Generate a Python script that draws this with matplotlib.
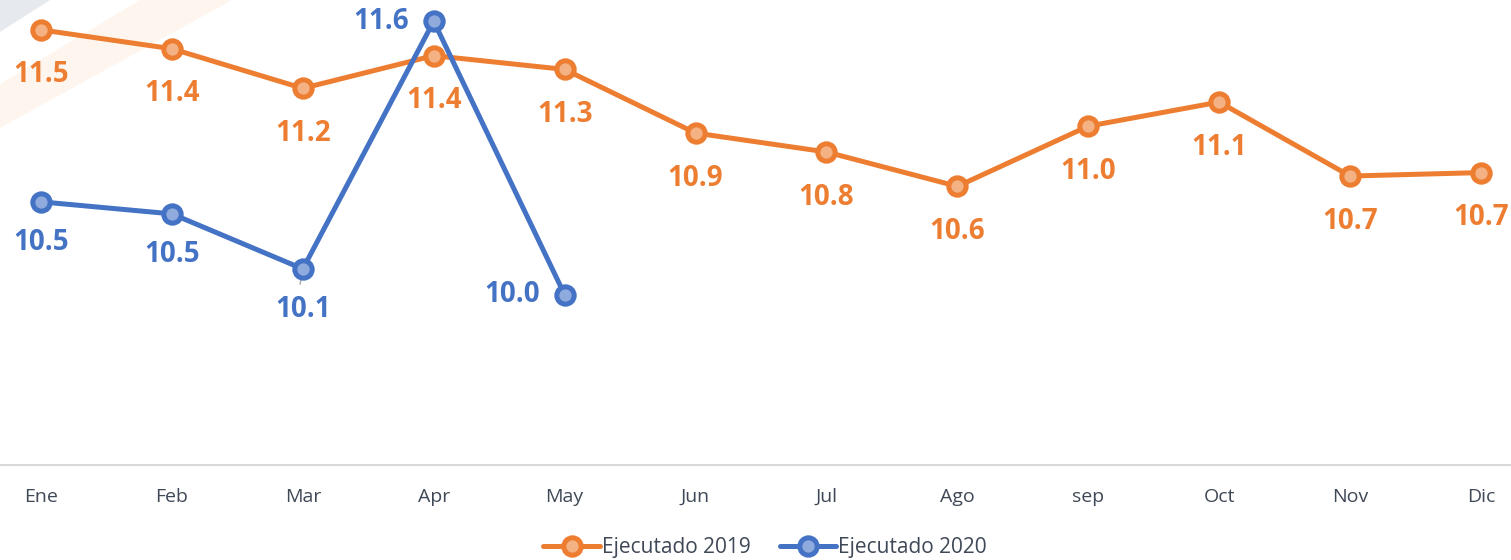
import matplotlib
matplotlib.use("Agg")
import matplotlib.pyplot as plt
from matplotlib.patches import Polygon

# Monthly series
months = ["Ene", "Feb", "Mar", "Apr", "May", "Jun", "Jul", "Ago", "sep", "Oct", "Nov", "Dic"]
ejecutado_2019 = [11.53, 11.42, 11.19, 11.38, 11.30, 10.93, 10.82, 10.62, 10.97, 11.11, 10.68, 10.70]
ejecutado_2020 = [10.53, 10.46, 10.14, 11.58, 9.99]

ORANGE = "#ED7D31"
ORANGE_FILL = "#F4B183"
BLUE = "#4472C4"
BLUE_FILL = "#8FAADC"
TEXT = "#3f4856"

plt.rcParams["font.family"] = ["Open Sans", "DejaVu Sans"]

W, H, DPI = 1511, 560, 100
fig = plt.figure(figsize=(W / DPI, H / DPI), dpi=DPI)
fig.patch.set_facecolor("white")

# Decorative corner shapes behind the chart
bg = fig.add_axes([0, 0, 1, 1], zorder=0)
bg.set_xlim(0, W)
bg.set_ylim(H, 0)
bg.axis("off")
bg.add_patch(Polygon([(0, 0), (50, 0), (0, 32)], closed=True,
                     facecolor="#e6e9ee", edgecolor="none"))
bg.add_patch(Polygon([(140, 0), (232, 0), (0, 128), (0, 84)], closed=True,
                     facecolor="#fef6ee", edgecolor="none"))

ax = fig.add_axes([0, 1 - 465 / H, 1, 465 / H], zorder=1)
ax.patch.set_alpha(0)

x19 = list(range(len(ejecutado_2019)))
x20 = list(range(len(ejecutado_2020)))

ax.plot(x19, ejecutado_2019, color=ORANGE, lw=3.6, marker="o", ms=12.5,
        mfc=ORANGE_FILL, mec=ORANGE, mew=3.6, label="Ejecutado 2019",
        solid_capstyle="round", zorder=3)
ax.plot(x20, ejecutado_2020, color=BLUE, lw=3.6, marker="o", ms=12.5,
        mfc=BLUE_FILL, mec=BLUE, mew=3.6, label="Ejecutado 2020",
        solid_capstyle="round", zorder=4)

label_kw = dict(textcoords="offset points", ha="center", va="center",
                fontsize=20, fontweight="bold", zorder=5)

for xi, v in zip(x19, ejecutado_2019):
    ax.annotate(f"{v:.1f}", (xi, v), xytext=(0, -32.5), color=ORANGE, **label_kw)

for xi, v in zip(x20, ejecutado_2020):
    if xi in (3, 4):
        offset = (-38, 0)
    else:
        offset = (0, -29.5)
    ax.annotate(f"{v:.1f}", (xi, v), xytext=offset, color=BLUE, **label_kw)

# Leader line under the March 2020 point
ax.annotate("", xy=(2, ejecutado_2020[2]), xytext=(-2, -11),
            textcoords="offset points",
            arrowprops=dict(arrowstyle="-", color="#a6a6a6", lw=1.0,
                            shrinkA=0, shrinkB=0), zorder=2)

ax.set_xlim(-41 / 130.9, 11 + 30 / 130.9)
ax.set_ylim(9.0, 2013 / 172)

ax.set_xticks(range(len(months)))
ax.set_xticklabels(months, fontsize=14, color=TEXT)
ax.tick_params(axis="x", length=0, pad=16.5)
ax.set_yticks([])
for side in ("top", "left", "right"):
    ax.spines[side].set_visible(False)
ax.spines["bottom"].set_color("#d9d9d9")
ax.spines["bottom"].set_linewidth(1.5)

leg = fig.legend(loc="center", bbox_to_anchor=(765 / W, 1 - 548 / H),
                 ncol=2, frameon=False, fontsize=15, handlelength=2.7,
                 handletextpad=0.1, columnspacing=1.4, labelcolor=TEXT)

fig.savefig("out.png", dpi=DPI)
